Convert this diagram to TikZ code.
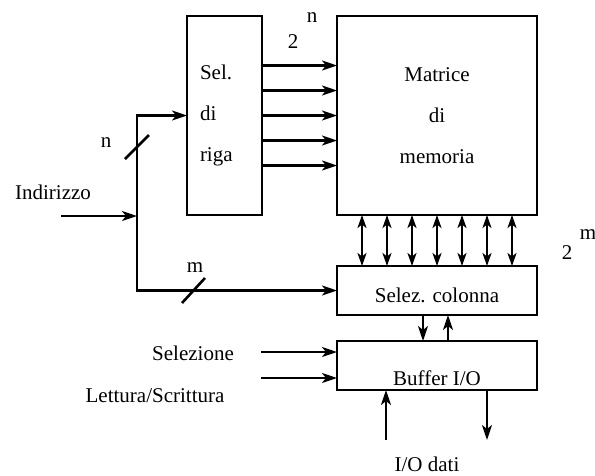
\documentclass[tikz,border=0pt]{standalone}
\usepackage{fontspec}
\setmainfont{Liberation Serif}
\usepackage{tikz}
\usetikzlibrary{arrows.meta, positioning}
\newcommand{\lblfont}{\fontsize{21}{41}\selectfont}

\begin{document}
\begin{tikzpicture}[
  x=1pt, y=-1pt,
  box/.style={rectangle, draw, line width=2.2pt, outer sep=0pt, inner sep=0pt,
              align=center, font=\lblfont},
  lbl/.style={inner sep=0pt, font=\lblfont},
  arrow/.style={-{Stealth[length=15pt, width=10pt, inset=4pt]}, line width=2.2pt},
  biarrow/.style={{Stealth[length=13pt, width=9pt, inset=3.5pt]}-{Stealth[length=13pt, width=9pt, inset=3.5pt]}, line width=2.2pt},
  slash/.style={line width=2.6pt}
]
\useasboundingbox (0,0) rectangle (595,475);

% blocchi
\node[box, text width=49pt, inner xsep=13pt, align=left, minimum height=199pt]
  (sel) at (224.5,115.5) {Sel.\\di\\riga};
\node[box, minimum width=200pt, minimum height=199pt, right=75pt of sel]
  (mat) {Matrice\\di\\memoria};
\node[box, minimum width=200pt, minimum height=49pt, below=51pt of mat] (col) {};
\node[lbl] (coltxt) at ([yshift=-5pt]col.center) {Selez. colonna};
\node[box, minimum width=200pt, minimum height=49pt, below=26pt of col] (buf) {};
\node[lbl] (buftxt) at ([yshift=-13pt]buf.center) {Buffer I/O};

% etichette
\node[lbl] (two1) at (293,42) {2};
\node[lbl] (exn) at (312,18) {n};
\node[lbl] (two2) at (567,253) {2};
\node[lbl] (exm) at (588,235) {m};
\node[lbl] (indir) at (53,192) {Indirizzo};
\node[lbl] (nlab) at (106,143) {n};
\node[lbl] (mlab) at (195,268) {m};
\node[lbl] (selez) at (193,353) {Selezione};
\node[lbl] (lettscr) at (155,396) {Lettura/Scrittura};
\node[lbl] (iodati) at (427,464) {I/O dati};

% indirizzo
\coordinate (addr) at (61,216);
\coordinate (bus) at (137,216);
\draw[arrow] (addr) -- (bus);
\draw[arrow] (bus |- col.west) -- (bus |- sel.west) -- (sel.west);
\draw[arrow] (bus |- sel.west) -- (bus |- col.west) -- (col.west);
\draw[slash] (125,159) -- (149,135);
\draw[slash] (182,303) -- (205,278);

% righe e colonne
\foreach \d in {-50,-25,0,25,50}
  \draw[arrow] ([yshift=\d pt]sel.east) -- ([yshift=\d pt]mat.west);
\foreach \d in {-75,-50,...,75}
  \draw[biarrow] ([xshift=\d pt]mat.south) -- ([xshift=\d pt]col.north);
\draw[arrow] ([xshift=-14pt]col.south) -- ([xshift=-14pt]buf.north);
\draw[arrow] ([xshift=11pt]buf.north) -- ([xshift=11pt]col.south);

% buffer
\coordinate (selin) at (261,352);
\coordinate (lsin) at (261,378);
\draw[arrow] (selin) -- (selin -| buf.west);
\draw[arrow] (lsin) -- (lsin -| buf.west);
\coordinate (ioin) at (386,440);
\coordinate (ioout) at (487,440);
\draw[arrow] (ioin) -- (ioin |- buf.south);
\draw[arrow] (ioout |- buf.south) -- (ioout);

\end{tikzpicture}
\end{document}
